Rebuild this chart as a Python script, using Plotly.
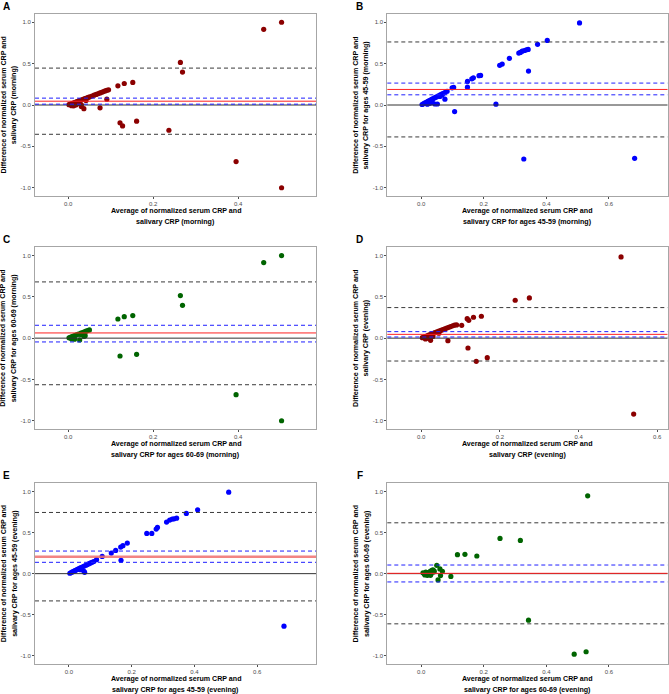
import plotly.graph_objects as go

# ---------------- data ----------------
# Panel A: all subjects (morning)
avg_A = [0.002, 0.004, 0.006, 0.009, 0.012, 0.015, 0.018, 0.021, 0.024, 0.027, 0.031, 0.035, 0.039,
         0.043, 0.047, 0.051, 0.056, 0.061, 0.066, 0.071, 0.075, 0.079, 0.083, 0.087, 0.091, 0.095,
         0.008, 0.013, 0.018, 0.021, 0.026, 0.031, 0.031, 0.037, 0.042, 0.075, 0.091, 0.117, 0.132,
         0.152, 0.122, 0.128, 0.161, 0.237, 0.264, 0.269, 0.395, 0.46, 0.502, 0.502]
diff_A = [0.004, 0.008, 0.012, 0.018, 0.023, 0.029, 0.035, 0.041, 0.047, 0.053, 0.06, 0.068, 0.076,
          0.084, 0.092, 0.099, 0.109, 0.119, 0.128, 0.138, 0.146, 0.154, 0.162, 0.17, 0.177, 0.184,
          -0.008, -0.01, 0.0, 0.014, 0.02, -0.018, 0.002, -0.045, 0.055, -0.034, 0.071, 0.232, 0.26,
          0.273, -0.216, -0.253, -0.196, -0.305, 0.515, 0.398, -0.684, 0.915, 1.0, -1.0]

# Panel B: ages 45-59 (morning)
avg_B = [0.003, 0.007, 0.011, 0.015, 0.019, 0.023, 0.027, 0.031, 0.035, 0.039, 0.044, 0.049, 0.055,
         0.061, 0.066, 0.071, 0.077, 0.083, 0.02, 0.028, 0.036, 0.044, 0.052, 0.076, 0.067, 0.06,
         0.099, 0.104, 0.107, 0.148, 0.148, 0.162, 0.167, 0.185, 0.19, 0.239, 0.251, 0.259, 0.282,
         0.312, 0.317, 0.323, 0.33, 0.336, 0.342, 0.343, 0.328, 0.372, 0.403, 0.506, 0.682]
diff_B = [0.006, 0.014, 0.022, 0.03, 0.038, 0.046, 0.054, 0.062, 0.07, 0.078, 0.088, 0.098, 0.11,
          0.122, 0.132, 0.142, 0.154, 0.166, 0.01, 0.02, 0.03, 0.012, 0.012, 0.07, 0.12, 0.103,
          0.208, 0.212, -0.08, 0.285, 0.216, 0.317, 0.329, 0.354, 0.357, 0.01, 0.479, 0.495, 0.564,
          0.628, 0.636, 0.651, 0.659, 0.667, 0.672, 0.41, -0.653, 0.733, 0.78, 0.992, -0.645]

# Panel C: ages 60-69 (morning)
avg_C = [0.002, 0.005, 0.008, 0.011, 0.014, 0.017, 0.02, 0.024, 0.03, 0.034, 0.038, 0.042, 0.046, 0.05,
         0.008, 0.015, 0.027, 0.037, 0.04, 0.03, 0.117, 0.132, 0.152, 0.122, 0.161, 0.264, 0.269,
         0.395, 0.46, 0.502, 0.502]
diff_C = [0.004, 0.01, 0.016, 0.022, 0.028, 0.034, 0.04, 0.048, 0.06, 0.068, 0.076, 0.084, 0.092, 0.1,
          -0.01, -0.012, -0.022, 0.02, 0.03, 0.045, 0.232, 0.26, 0.273, -0.216, -0.196, 0.515, 0.398,
          -0.684, 0.915, 1.0, -1.0]

# Panel D: all subjects (evening)
avg_D = [0.003, 0.007, 0.011, 0.015, 0.019, 0.023, 0.027, 0.031, 0.035, 0.04, 0.045, 0.05, 0.055,
         0.06, 0.065, 0.07, 0.075, 0.08, 0.085, 0.011, 0.018, 0.024, 0.03, 0.045, 0.068, 0.09, 0.103,
         0.117, 0.121, 0.133, 0.153, 0.119, 0.14, 0.168, 0.239, 0.275, 0.508, 0.54]
diff_D = [0.006, 0.013, 0.02, 0.028, 0.036, 0.044, 0.051, 0.058, 0.066, 0.075, 0.085, 0.094, 0.103,
          0.112, 0.122, 0.131, 0.14, 0.15, 0.158, -0.01, 0.0, -0.026, 0.02, 0.06, -0.03, 0.16, 0.155,
          0.236, 0.216, 0.253, 0.265, -0.119, -0.281, -0.236, 0.459, 0.487, 0.984, -0.919]

# Panel E: ages 45-59 (evening)
avg_E = [0.003, 0.007, 0.011, 0.015, 0.019, 0.023, 0.027, 0.031, 0.035, 0.039, 0.044, 0.049, 0.054,
         0.059, 0.064, 0.069, 0.074, 0.079, 0.037, 0.048, 0.05, 0.088, 0.106, 0.135, 0.149, 0.165,
         0.172, 0.166, 0.186, 0.248, 0.264, 0.278, 0.282, 0.311, 0.321, 0.329, 0.335, 0.343, 0.374,
         0.41, 0.509, 0.685]
diff_E = [0.005, 0.013, 0.021, 0.029, 0.036, 0.044, 0.052, 0.059, 0.067, 0.075, 0.084, 0.093, 0.102,
          0.111, 0.121, 0.13, 0.139, 0.148, 0.049, 0.028, 0.016, 0.17, 0.21, 0.251, 0.283, 0.324,
          0.34, 0.162, 0.372, 0.49, 0.49, 0.543, 0.563, 0.628, 0.652, 0.664, 0.668, 0.676, 0.733,
          0.777, 0.992, -0.64]

# Panel F: ages 60-69 (evening)
avg_F = [0.006, 0.01, 0.012, 0.015, 0.018, 0.02, 0.022, 0.025, 0.028, 0.03, 0.032, 0.035, 0.038, 0.04,
         0.03, 0.042, 0.05, 0.06, 0.068, 0.062, 0.054, 0.095, 0.116, 0.14, 0.178, 0.252, 0.317,
         0.343, 0.489, 0.527, 0.532]
diff_F = [0.01, 0.0, -0.015, 0.02, -0.005, -0.02, 0.01, 0.015, -0.01, 0.03, 0.0, 0.04, 0.045, 0.02,
          -0.02, 0.03, 0.101, 0.057, 0.029, -0.024, -0.077, -0.034, 0.231, 0.235, 0.215, 0.429, 0.405,
          -0.567, -0.98, -0.951, 0.947]

# Bland-Altman statistics: bias, CI of bias (low, high), limits of agreement (low, high)
bias = [0.046, 0.188, 0.063, 0.046, 0.206, 0.004]
bias_ci_low = [0.01, 0.123, -0.046, 0.014, 0.138, -0.101]
bias_ci_high = [0.083, 0.265, 0.156, 0.079, 0.275, 0.105]
loa_low = [-0.354, -0.386, -0.564, -0.277, -0.332, -0.611]
loa_high = [0.446, 0.762, 0.681, 0.37, 0.745, 0.619]

panel_letters = ["A", "B", "C", "D", "E", "F"]
y_title_line1 = ["Difference of normalized serum CRP and"] * 6
y_title_line2 = ["salivary CRP (morning)",
                 "salivary CRP for ages 45-59 (morning)",
                 "salivary CRP for ages 60-69 (morning)",
                 "salivary CRP (evening)",
                 "salivary CRP for ages 45-59 (evening)",
                 "salivary CRP for ages 60-69 (evening)"]
x_title_line1 = ["Average of normalized serum CRP and"] * 6
x_title_line2 = ["salivary CRP (morning)",
                 "salivary CRP for ages 45-59 (morning)",
                 "salivary CRP for ages 60-69 (morning)",
                 "salivary CRP (evening)",
                 "salivary CRP for ages 45-59 (evening)",
                 "salivary CRP for ages 60-69 (evening)"]
x_ticks = [0.0, 0.2, 0.4, 0.6]
x_tick_text = ["0.0", "0.2", "0.4", "0.6"]
y_ticks = [-1.0, -0.5, 0.0, 0.5, 1.0]
y_tick_text = ["-1.0", "-0.5", "0.0", "0.5", "1.0"]

avgs = [avg_A, avg_B, avg_C, avg_D, avg_E, avg_F]
diffs = [diff_A, diff_B, diff_C, diff_D, diff_E, diff_F]

# ---------------- styling / layout ----------------
W, H = 669, 694
point_colors = ["#8B0000", "#0000FF", "#006400", "#8B0000", "#0000FF", "#006400"]
x_ranges = [[-0.078, 0.583], [-0.108, 0.787], [-0.078, 0.583],
            [-0.086, 0.626], [-0.108, 0.787], [-0.108, 0.787]]
y_range = [-1.1, 1.1]

# pixel boxes of each panel: (left, right, top, bottom)
boxes = [(35, 316, 14, 196), (387.3, 667.5, 14, 196),
         (35, 316, 247.3, 429), (387.3, 667.5, 247.3, 429),
         (35, 316, 483.3, 664), (387.3, 667.5, 483.3, 664)]


def px(x):
    return x / W


def py(y):
    return 1 - y / H


fig = go.Figure()
shapes = []
annotations = []
TICKFONT = dict(family="Liberation Sans, Arial, sans-serif", size=6, color="#4d4d4d")
TITLEFONT = dict(family="Liberation Sans, Arial, sans-serif", size=7.1, color="#000000")

for i in range(6):
    n = i + 1
    xa = "x" if n == 1 else f"x{n}"
    ya = "y" if n == 1 else f"y{n}"
    l, r, t, b = boxes[i]
    fig.add_trace(go.Scatter(
        x=avgs[i], y=diffs[i], mode="markers", xaxis=xa, yaxis=ya,
        marker=dict(color=point_colors[i], size=5.2, line=dict(width=0)),
        showlegend=False, hoverinfo="x+y"))
    axis_common = dict(showgrid=False, zeroline=False, showline=True, mirror=True,
                       linecolor="#a6a6a6", linewidth=1, ticks="outside", ticklen=2,
                       tickcolor="#4d4d4d", tickwidth=0.8, tickfont=TICKFONT)
    fig.layout[f"xaxis{'' if n == 1 else n}"] = dict(
        domain=[px(l), px(r)], range=x_ranges[i], anchor=ya,
        tickvals=x_ticks, ticktext=x_tick_text, **axis_common)
    fig.layout[f"yaxis{'' if n == 1 else n}"] = dict(
        domain=[py(b), py(t)], range=y_range, anchor=xa,
        tickvals=y_ticks, ticktext=y_tick_text, **axis_common)

    xdom = f"{xa} domain"
    # zero line
    shapes.append(dict(type="line", xref=xdom, yref=ya, x0=0, x1=1, y0=0, y1=0,
                       line=dict(color="#333333", width=1)))
    # limits of agreement
    for v in (loa_low[i], loa_high[i]):
        shapes.append(dict(type="line", xref=xdom, yref=ya, x0=0, x1=1, y0=v, y1=v,
                           line=dict(color="#3a3a3a", width=1, dash="4px,3px")))
    # CI of bias
    for v in (bias_ci_low[i], bias_ci_high[i]):
        shapes.append(dict(type="line", xref=xdom, yref=ya, x0=0, x1=1, y0=v, y1=v,
                           line=dict(color="#1f1fff", width=1, dash="4px,3px")))
    # bias
    if i == 4:
        bias_line = dict(color="rgba(240,110,110,0.85)", width=2.6)
    else:
        bias_line = dict(color="#ff2020", width=1)
    shapes.append(dict(type="line", xref=xdom, yref=ya, x0=0, x1=1, y0=bias[i], y1=bias[i],
                       line=bias_line))

    cx = (l + r) / 2
    cy = (t + b) / 2
    # panel letter
    lx = 6 if i % 2 == 0 else 359.5
    annotations.append(dict(text=f"<b>{panel_letters[i]}</b>", xref="paper", yref="paper",
                            x=px(lx), y=py(t - 7.5), xanchor="center", yanchor="middle",
                            showarrow=False,
                            font=dict(family="Liberation Sans, Arial, sans-serif", size=10,
                                      color="#000")))
    # x title (two lines)
    annotations.append(dict(text=f"<b>{x_title_line1[i]}</b>", xref="paper", yref="paper",
                            x=px(cx), y=py(b + 14.7), xanchor="center", yanchor="middle",
                            showarrow=False, font=TITLEFONT))
    annotations.append(dict(text=f"<b>{x_title_line2[i]}</b>", xref="paper", yref="paper",
                            x=px(cx), y=py(b + 25.5), xanchor="center", yanchor="middle",
                            showarrow=False, font=TITLEFONT))
    # y title (two lines, rotated)
    y1x = 3.6 if i % 2 == 0 else 355.8
    annotations.append(dict(text=f"<b>{y_title_line1[i]}</b>", xref="paper", yref="paper",
                            x=px(y1x), y=py(cy), xanchor="center", yanchor="middle",
                            textangle=-90, showarrow=False, font=TITLEFONT))
    annotations.append(dict(text=f"<b>{y_title_line2[i]}</b>", xref="paper", yref="paper",
                            x=px(y1x + 10.6), y=py(cy), xanchor="center", yanchor="middle",
                            textangle=-90, showarrow=False, font=TITLEFONT))

fig.update_layout(width=W, height=H, margin=dict(l=0, r=0, t=0, b=0),
                  paper_bgcolor="white", plot_bgcolor="white",
                  shapes=shapes, annotations=annotations, showlegend=False)

# remove the browser's default 8px page margin so the figure sits at the window origin
fig.write_html("out.html",
               config={"displayModeBar": False},
               post_script="document.body.style.margin='0';document.body.style.overflow='hidden';")
